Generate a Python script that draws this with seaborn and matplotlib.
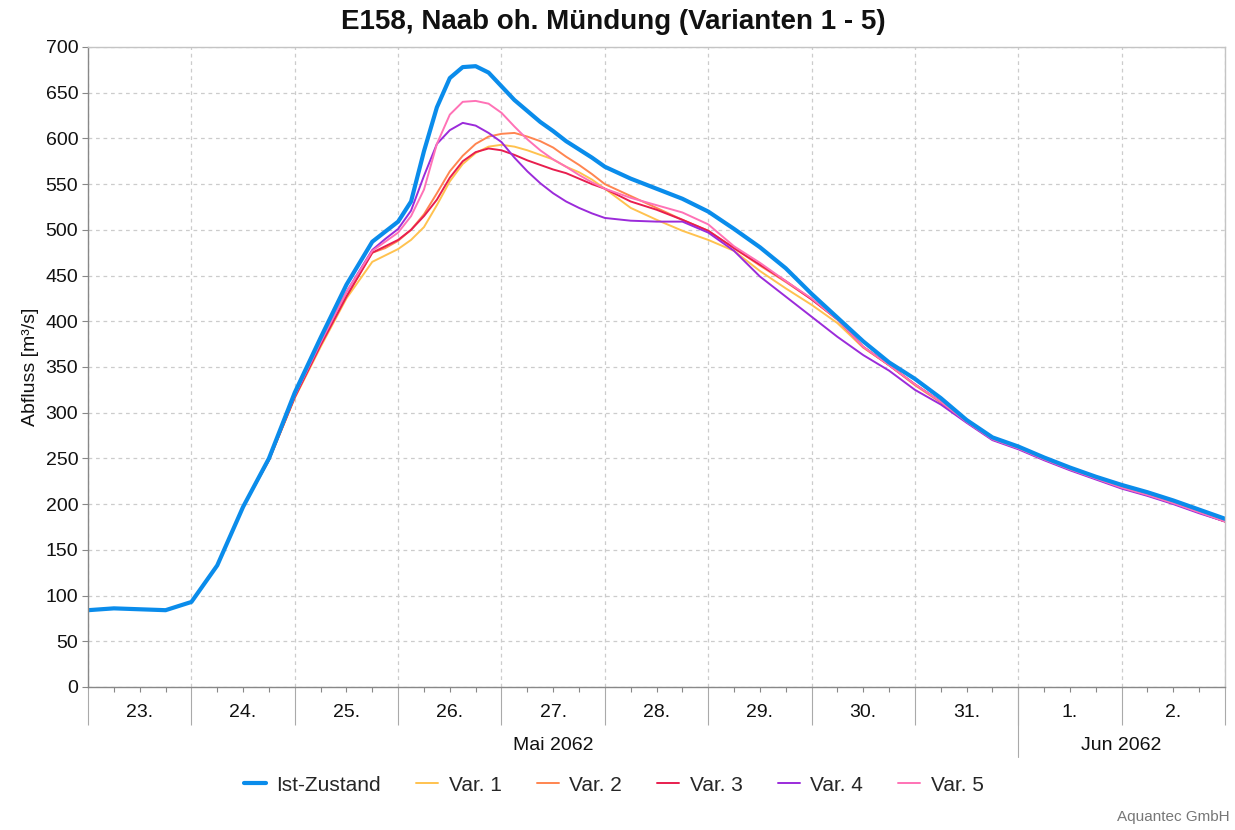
import pandas as pd
import matplotlib
matplotlib.use("Agg")
import matplotlib.pyplot as plt
import matplotlib.dates as mdates
import matplotlib.transforms as mtransforms
from matplotlib.lines import Line2D
import seaborn as sns

# Discharge values [m³/s] from 23 May 2062 00:00; 6-hourly, 3-hourly around the peak
start = "2062-05-23"
hours = list(range(0, 67, 6)) + list(range(69, 121, 3)) + list(range(126, 265, 6))

ist_zustand = [84, 86, 85, 84, 93, 133, 197, 250, 322, 382, 440, 487,
               498, 509, 531, 586, 634, 666, 678, 679, 672, 657, 642, 630, 618, 608, 597, 588, 579, 569,
               556, 545, 534, 520, 501, 481, 458, 430, 404, 378, 355, 337, 316, 292, 273, 263,
               251, 240, 230, 221, 213, 204, 194, 184]
var_1 = [84, 86, 85, 84, 93, 133, 197, 248, 316, 372, 425, 465,
         472, 479, 489, 503, 527, 553, 572, 584, 591, 593, 591, 587, 582, 577, 569, 563, 555, 545,
         524, 511, 499, 489, 477, 455, 436, 418, 398, 371, 352, 330, 311, 290, 271, 261,
         249, 238, 228, 218, 210, 201, 191, 181]
var_2 = [84, 86, 85, 84, 93, 133, 197, 248, 317, 374, 427, 475,
         480, 488, 500, 517, 540, 564, 581, 594, 602, 605, 606, 602, 597, 590, 580, 571, 561, 550,
         537, 524, 511, 499, 480, 461, 443, 424, 402, 372, 352, 331, 312, 290, 271, 261,
         249, 238, 228, 218, 210, 201, 191, 181]
var_3 = [84, 86, 85, 84, 93, 133, 197, 248, 317, 374, 427, 475,
         482, 489, 500, 515, 533, 557, 575, 585, 589, 587, 582, 576, 571, 566, 562, 556, 550, 545,
         531, 522, 511, 499, 480, 462, 444, 424, 402, 372, 352, 331, 312, 290, 271, 261,
         249, 238, 228, 218, 210, 201, 191, 181]
var_4 = [84, 86, 85, 84, 93, 133, 197, 249, 319, 377, 432, 478,
         490, 501, 521, 559, 594, 609, 617, 614, 606, 596, 579, 564, 551, 540, 531, 524, 518, 513,
         510, 509, 509, 497, 477, 449, 427, 405, 383, 363, 346, 325, 309, 289, 270, 260,
         248, 237, 227, 217, 209, 200, 190, 181]
var_5 = [84, 86, 85, 84, 93, 133, 197, 249, 319, 377, 432, 477,
         487, 497, 515, 544, 594, 626, 640, 641, 638, 628, 613, 599, 587, 577, 569, 560, 552, 545,
         535, 527, 519, 506, 482, 464, 444, 425, 402, 372, 352, 331, 312, 290, 271, 261,
         249, 238, 228, 218, 210, 201, 191, 181]

series_names = ["Ist-Zustand", "Var. 1", "Var. 2", "Var. 3", "Var. 4", "Var. 5"]
series_values = [ist_zustand, var_1, var_2, var_3, var_4, var_5]
series_colors = ["#0A8CEB", "#FFC24F", "#FF8550", "#E81E4E", "#9B2BDA", "#FF72B6"]
series_widths = [3.0, 1.4, 1.4, 1.4, 1.4, 1.4]

day_labels = ["23.", "24.", "25.", "26.", "27.", "28.", "29.", "30.", "31.", "1.", "2."]
month_labels = ["Mai 2062", "Jun 2062"]
y_ticks = list(range(0, 701, 50))

t0 = pd.Timestamp(start)
t1 = pd.Timestamp("2062-06-03")
times = t0 + pd.to_timedelta(hours, unit="h")
df = pd.concat(
    [pd.DataFrame({"Zeit": times, "Abfluss": vals, "Serie": name})
     for name, vals in zip(series_names, series_values)],
    ignore_index=True,
)

sns.set_theme(style="white")
plt.rcParams["font.family"] = ["Liberation Sans", "DejaVu Sans"]

fig = plt.figure(figsize=(12.35, 8.3), dpi=100)
ax = fig.add_axes([0.0713, 0.1723, 0.9206, 0.7711])

# variants first, the current state drawn on top
draw_order = [1, 2, 3, 4, 5, 0]
for k in draw_order:
    name = series_names[k]
    sns.lineplot(data=df[df["Serie"] == name], x="Zeit", y="Abfluss",
                 color=series_colors[k], linewidth=series_widths[k], ax=ax, legend=False)

ax.set_xlim(t0, t1)
ax.set_ylim(0, 700)
ax.set_yticks(y_ticks)
ax.tick_params(axis="y", labelsize=14, length=4, width=0.8, color="#888888",
               direction="out", pad=3, left=True, labelcolor="#111111")

# day ticks as long separators below the axis, 6-hour minor ticks
ax.xaxis.set_major_locator(mdates.DayLocator())
ax.xaxis.set_minor_locator(mdates.HourLocator(byhour=[0, 6, 12, 18]))
ax.xaxis.set_major_formatter(plt.NullFormatter())
ax.tick_params(axis="x", which="major", length=27, width=0.8, color="#aaaaaa",
               direction="out", bottom=True)
ax.tick_params(axis="x", which="minor", length=3.5, width=0.8, color="#888888",
               direction="out", bottom=True)

ax.grid(True, which="major", axis="both", color="#cccccc", linestyle=(0, (3, 3)),
        linewidth=0.9)
ax.set_axisbelow(True)

for side in ["left", "bottom"]:
    ax.spines[side].set_color("#888888")
    ax.spines[side].set_linewidth(1.0)
for side in ["top", "right"]:
    ax.spines[side].set_color("#c4c4c4")
    ax.spines[side].set_linewidth(1.0)

ax.set_xlabel("")
ax.set_ylabel("Abfluss [m³/s]", fontsize=14, color="#111111", labelpad=5)

trans = mtransforms.blended_transform_factory(ax.transData, ax.transAxes)
days = pd.date_range(t0, periods=len(day_labels), freq="D")
for d, lab in zip(days, day_labels):
    ax.text(d + pd.Timedelta(hours=12), -0.040, lab, transform=trans, ha="center",
            va="center", fontsize=14, color="#111111")

jun1 = pd.Timestamp("2062-06-01")
ax.text(t0 + (jun1 - t0) / 2, -0.091, month_labels[0], transform=trans, ha="center",
        va="center", fontsize=14, color="#111111")
ax.text(jun1 + (t1 - jun1) / 2, -0.091, month_labels[1], transform=trans, ha="center",
        va="center", fontsize=14, color="#111111")
ax.plot([jun1, jun1], [0, -0.110], transform=trans, color="#aaaaaa", lw=0.8,
        clip_on=False)

fig.text(0.497, 0.9735, "E158, Naab oh. Mündung (Varianten 1 - 5)", ha="center",
         va="center", fontsize=20, fontweight="bold", color="#111111")

handles = [Line2D([], [], color=c, lw=w) for c, w in zip(series_colors, series_widths)]
fig.legend(handles, series_names, loc="center", bbox_to_anchor=(0.497, 1 - 785 / 830),
           ncol=6, frameon=False, fontsize=15, handlelength=1.05,
           columnspacing=1.7, handletextpad=0.5)

fig.text(0.9955, 1 - 817 / 830, "Aquantec GmbH", ha="right", va="center",
         fontsize=11, color="#777777")

fig.savefig("out.png", dpi=100)
